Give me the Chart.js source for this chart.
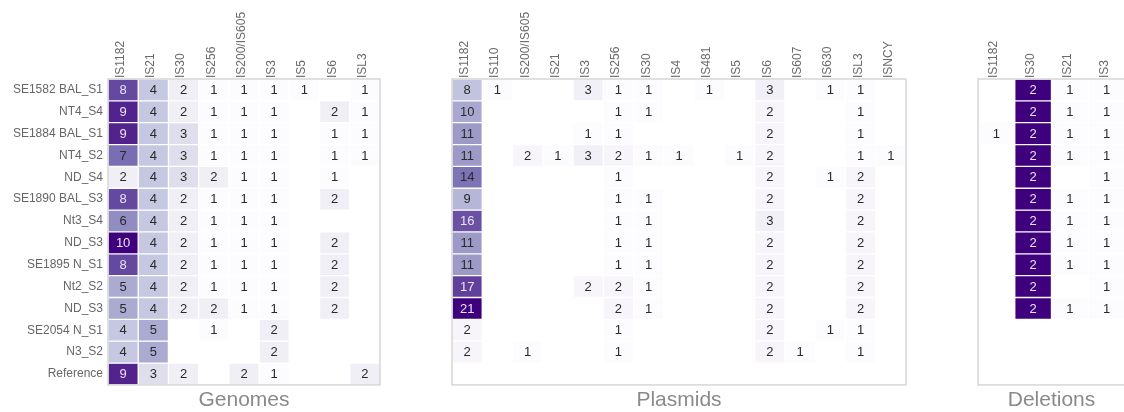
<!DOCTYPE html>
<html>
<head>
<meta charset="utf-8">
<script src="https://cdn.jsdelivr.net/npm/chart.js@4"></script>
<style>
  html, body { margin: 0; padding: 0; background: #fff; overflow: hidden; }
  #wrap { position: relative; width: 1124px; height: 412px; overflow: hidden; }
  .panel { position: absolute; top: 0; height: 412px; }
</style>
</head>
<body>
<div id="wrap">
  <div class="panel" style="left:0;width:390px"><canvas id="genomes"></canvas></div>
  <div class="panel" style="left:440px;width:480px"><canvas id="plasmids"></canvas></div>
  <div class="panel" style="left:960px;width:170px"><canvas id="deletions"></canvas></div>
</div>
<script>
// Row names (shared by the three panels)
const rows = ['SE1582 BAL_S1', 'NT4_S4', 'SE1884 BAL_S1', 'NT4_S2', 'ND_S4', 'SE1890 BAL_S3',
  'Nt3_S4', 'ND_S3', 'SE1895 N_S1', 'Nt2_S2', 'ND_S3', 'SE2054 N_S1', 'N3_S2', 'Reference'];

// Genomes
const genomeCols = ['IS1182', 'IS21', 'IS30', 'IS256', 'IS200/IS605', 'IS3', 'IS5', 'IS6', 'ISL3'];
const genomeCounts = [
  [8, 4, 2, 1, 1, 1, 1, null, 1],
  [9, 4, 2, 1, 1, 1, null, 2, 1],
  [9, 4, 3, 1, 1, 1, null, 1, 1],
  [7, 4, 3, 1, 1, 1, null, 1, 1],
  [2, 4, 3, 2, 1, 1, null, 1, null],
  [8, 4, 2, 1, 1, 1, null, 2, null],
  [6, 4, 2, 1, 1, 1, null, null, null],
  [10, 4, 2, 1, 1, 1, null, 2, null],
  [8, 4, 2, 1, 1, 1, null, 2, null],
  [5, 4, 2, 1, 1, 1, null, 2, null],
  [5, 4, 2, 2, 1, 1, null, 2, null],
  [4, 5, null, 1, null, 2, null, null, null],
  [4, 5, null, null, null, 2, null, null, null],
  [9, 3, 2, null, 2, 1, null, null, 2]
];

// Plasmids
const plasmidCols = ['IS1182', 'IS110', 'IS200/IS605', 'IS21', 'IS3', 'IS256', 'IS30', 'IS4',
  'IS481', 'IS5', 'IS6', 'IS607', 'IS630', 'ISL3', 'ISNCY'];
const _ = null;
const plasmidCounts = [
  [8, 1, _, _, 3, 1, 1, _, 1, _, 3, _, 1, 1, _],
  [10, _, _, _, _, 1, 1, _, _, _, 2, _, _, 1, _],
  [11, _, _, _, 1, 1, _, _, _, _, 2, _, _, 1, _],
  [11, _, 2, 1, 3, 2, 1, 1, _, 1, 2, _, _, 1, 1],
  [14, _, _, _, _, 1, _, _, _, _, 2, _, 1, 2, _],
  [9, _, _, _, _, 1, 1, _, _, _, 2, _, _, 2, _],
  [16, _, _, _, _, 1, 1, _, _, _, 3, _, _, 2, _],
  [11, _, _, _, _, 1, 1, _, _, _, 2, _, _, 2, _],
  [11, _, _, _, _, 1, 1, _, _, _, 2, _, _, 2, _],
  [17, _, _, _, 2, 2, 1, _, _, _, 2, _, _, 2, _],
  [21, _, _, _, _, 2, 1, _, _, _, 2, _, _, 2, _],
  [2, _, _, _, _, 1, _, _, _, _, 2, _, 1, 1, _],
  [2, _, 1, _, _, 1, _, _, _, _, 2, 1, _, 1, _],
  [_, _, _, _, _, _, _, _, _, _, _, _, _, _, _]
];

// Deletions
const deletionCols = ['IS1182', 'IS30', 'IS21', 'IS3'];
const deletionCounts = [
  [_, 2, 1, 1],
  [_, 2, 1, 1],
  [1, 2, 1, 1],
  [_, 2, 1, 1],
  [_, 2, _, 1],
  [_, 2, 1, 1],
  [_, 2, 1, 1],
  [_, 2, 1, 1],
  [_, 2, 1, 1],
  [_, 2, _, 1],
  [_, 2, 1, 1],
  [_, _, _, _],
  [_, _, _, _],
  [_, _, _, _]
];

Chart.defaults.font.family = '"Liberation Sans", Arial, sans-serif';

// matplotlib "Purples"
const purpleStops = ['#fcfbfd', '#efedf5', '#dadaeb', '#bcbddc', '#9e9ac8', '#807dba', '#6a51a3', '#54278f', '#3f007d'];
function hex(h) { return [1, 3, 5].map(k => parseInt(h.slice(k, k + 2), 16)); }
function purples(t) {
  if (!isFinite(t)) return '#ffffff';
  t = Math.max(0, Math.min(1, t)) * (purpleStops.length - 1);
  const i = Math.min(Math.floor(t), purpleStops.length - 2);
  const f = t - i;
  const a = hex(purpleStops[i]), b = hex(purpleStops[i + 1]);
  const c = a.map((v, k) => Math.round(v + (b[k] - v) * f));
  return `rgb(${c[0]},${c[1]},${c[2]})`;
}

// light grey frame around each heatmap
const frame = {
  id: 'frame',
  afterDraw(chart) {
    const { left, top, right, bottom } = chart.chartArea;
    const ctx = chart.ctx;
    ctx.save();
    ctx.strokeStyle = '#d6d6d6';
    ctx.lineWidth = 1.5;
    ctx.strokeRect(left, top, right - left, bottom - top);
    ctx.restore();
  }
};

function heatmap(id, cols, counts, title, layout) {
  const vals = counts.flat().filter(v => v != null);
  const vmin = Math.min(...vals), vmax = Math.max(...vals);
  const norm = v => (v - vmin) / (vmax - vmin);

  const datasets = rows.map((r, i) => ({
    label: r,
    data: cols.map((c, j) => counts[i][j] == null ? null : [i, i + 1]),
    backgroundColor: ctx => purples(norm(counts[i][ctx.dataIndex])),
    borderColor: '#ffffff',
    borderWidth: 1,
    borderSkipped: false,
    barPercentage: 1,
    categoryPercentage: 1,
    grouped: false
  }));

  // numbers written in the cells
  const annotate = {
    id: 'annotate',
    afterDatasetsDraw(chart) {
      const ctx = chart.ctx;
      ctx.save();
      ctx.font = '13px "Liberation Sans", Arial, sans-serif';
      ctx.textAlign = 'center';
      ctx.textBaseline = 'middle';
      chart.data.datasets.forEach((ds, i) => {
        chart.getDatasetMeta(i).data.forEach((bar, j) => {
          const v = counts[i][j];
          if (v == null) return;
          const p = bar.getCenterPoint();
          ctx.fillStyle = norm(v) > 0.7 ? '#e9e4f2' : '#2a2a2a';
          ctx.fillText(String(v), p.x, p.y + 0.5);
        });
      });
      ctx.restore();
    }
  };

  new Chart(document.getElementById(id), {
    type: 'bar',
    data: { labels: cols, datasets: datasets },
    options: {
      responsive: true,
      maintainAspectRatio: false,
      animation: false,
      events: [],
      layout: { padding: layout.padding },
      scales: {
        x: {
          type: 'category',
          position: 'top',
          grid: { display: false, drawTicks: false },
          border: { display: false },
          ticks: {
            autoSkip: false, minRotation: 90, maxRotation: 90, padding: 1,
            labelOffset: 12, color: '#6b6b6b', font: { size: 12 }
          },
          afterFit: axis => { axis.height = 79; }
        },
        y: {
          type: 'linear',
          min: 0,
          max: rows.length,
          reverse: true,
          display: layout.showRows,
          grid: { display: false, drawTicks: false },
          border: { display: false },
          afterBuildTicks: axis => { axis.ticks = rows.map((r, i) => ({ value: i + 0.5 })); },
          afterFit: axis => { axis.width = layout.showRows ? 108 : 0; },
          ticks: {
            autoSkip: false, padding: 5, color: '#666666', font: { size: 12 },
            callback: v => rows[Math.floor(v)]
          }
        }
      },
      plugins: {
        legend: { display: false },
        tooltip: { enabled: false },
        title: {
          display: true,
          text: title,
          position: 'bottom',
          fullSize: false,
          color: '#8a8a8a',
          font: { size: 21, weight: 'normal', lineHeight: 1.1 },
          padding: { top: 4, bottom: 0 }
        }
      }
    },
    plugins: [annotate, frame]
  });
}

heatmap('genomes', genomeCols, genomeCounts, 'Genomes',
  { showRows: true, padding: { left: 0, right: 10, top: 0, bottom: 0 } });
heatmap('plasmids', plasmidCols, plasmidCounts, 'Plasmids',
  { showRows: false, padding: { left: 12, right: 14, top: 0, bottom: 0 } });
heatmap('deletions', deletionCols, deletionCounts, 'Deletions',
  { showRows: false, padding: { left: 18, right: 5, top: 0, bottom: 0 } });
</script>
</body>
</html>
